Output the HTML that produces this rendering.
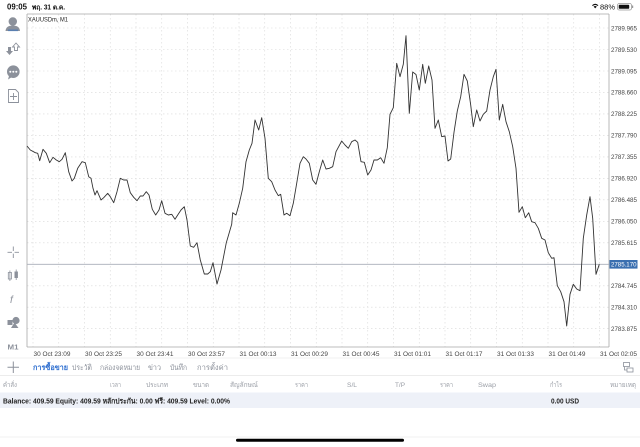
<!DOCTYPE html>
<html><head><meta charset="utf-8"><style>
html,body{margin:0;padding:0;background:#fff;width:640px;height:447px;overflow:hidden}
svg{display:block}
text{font-family:"Liberation Sans","DejaVu Sans","Noto Sans CJK SC",sans-serif}
</style></head><body>
<svg width="640" height="447" viewBox="0 0 640 447" xmlns="http://www.w3.org/2000/svg">
<rect width="640" height="447" fill="#fff"/>
<!-- status bar -->
<text x="7" y="9.5" font-size="8" font-weight="bold" fill="#111" textLength="20" lengthAdjust="spacingAndGlyphs">09:05</text>
<text x="32" y="9.5" font-size="7" font-weight="bold" fill="#111" textLength="33" lengthAdjust="spacingAndGlyphs">พฤ. 31 ต.ค.</text>
<g fill="#111">
<path d="M592 5.2 Q595.2 2.4 598.4 5.2 L597.6 6 Q595.2 4 592.8 6Z"/>
<path d="M593.6 6.6 Q595.2 5.3 596.8 6.6 L595.2 8.4Z"/>
</g>
<text x="600" y="9.3" font-size="7.5" fill="#111" textLength="15" lengthAdjust="spacingAndGlyphs">88%</text>
<rect x="617.5" y="3.5" width="14" height="6.5" rx="1.8" fill="none" stroke="#999" stroke-width="0.8"/>
<rect x="618.7" y="4.7" width="10.5" height="4.1" rx="0.8" fill="#111"/>
<rect x="632" y="5.5" width="1.2" height="2.5" fill="#999"/>

<!-- chart grid -->
<g stroke="#d8d8d8" stroke-width="0.6" stroke-dasharray="1.5,2.5">
<line x1="27" x2="609" y1="28" y2="28"/><line x1="27" x2="609" y1="49.5" y2="49.5"/><line x1="27" x2="609" y1="71" y2="71"/><line x1="27" x2="609" y1="92.4" y2="92.4"/><line x1="27" x2="609" y1="113.9" y2="113.9"/><line x1="27" x2="609" y1="135.4" y2="135.4"/><line x1="27" x2="609" y1="156.9" y2="156.9"/><line x1="27" x2="609" y1="178.4" y2="178.4"/><line x1="27" x2="609" y1="199.8" y2="199.8"/><line x1="27" x2="609" y1="221.3" y2="221.3"/><line x1="27" x2="609" y1="242.8" y2="242.8"/><line x1="27" x2="609" y1="285.8" y2="285.8"/><line x1="27" x2="609" y1="307.2" y2="307.2"/><line x1="27" x2="609" y1="328.7" y2="328.7"/>
<line y1="14" y2="347" x1="33" x2="33"/><line y1="14" y2="347" x1="58.75" x2="58.75"/><line y1="14" y2="347" x1="84.5" x2="84.5"/><line y1="14" y2="347" x1="110.25" x2="110.25"/><line y1="14" y2="347" x1="136" x2="136"/><line y1="14" y2="347" x1="161.75" x2="161.75"/><line y1="14" y2="347" x1="187.5" x2="187.5"/><line y1="14" y2="347" x1="213.25" x2="213.25"/><line y1="14" y2="347" x1="239" x2="239"/><line y1="14" y2="347" x1="264.75" x2="264.75"/><line y1="14" y2="347" x1="290.5" x2="290.5"/><line y1="14" y2="347" x1="316.25" x2="316.25"/><line y1="14" y2="347" x1="342" x2="342"/><line y1="14" y2="347" x1="367.75" x2="367.75"/><line y1="14" y2="347" x1="393.5" x2="393.5"/><line y1="14" y2="347" x1="419.25" x2="419.25"/><line y1="14" y2="347" x1="445" x2="445"/><line y1="14" y2="347" x1="470.75" x2="470.75"/><line y1="14" y2="347" x1="496.5" x2="496.5"/><line y1="14" y2="347" x1="522.25" x2="522.25"/><line y1="14" y2="347" x1="548" x2="548"/><line y1="14" y2="347" x1="573.75" x2="573.75"/><line y1="14" y2="347" x1="599.5" x2="599.5"/>
</g>
<!-- frame -->
<g stroke="#a8a8a8" stroke-width="0.8" fill="none">
<line x1="27" y1="14" x2="609" y2="14"/>
<line x1="27" y1="14" x2="27" y2="347"/>
<line x1="609" y1="14" x2="609" y2="347"/>
<line x1="27" y1="347" x2="609" y2="347"/>
</g>
<text x="28" y="21.5" font-size="6.5" fill="#222" textLength="40" lengthAdjust="spacingAndGlyphs">XAUUSDm, M1</text>

<!-- current price line -->
<line x1="27" y1="264.3" x2="609" y2="264.3" stroke="#a9adb8" stroke-width="0.8"/>

<!-- series -->
<polyline fill="none" stroke="#333" stroke-width="0.9" stroke-linejoin="round" points="27,146 30.3,150 35.3,152.7 37.7,153.3 39.7,160.7 43,149.3 46.3,153.3 49.7,162.7 53,157.3 56.3,160 59.3,161.7 62,159.3 65.3,152.7 68.7,171.7 72,181 74.3,178.3 77.7,168.3 82,161.7 85.3,162.7 88.7,176.7 91,178.3 93,188.3 95,195 97,190.7 101,200 103.7,197.7 107.7,193.3 110.3,196.7 113.7,202.7 117,191.7 120.3,178.3 123.7,180 127,180 130.3,192.7 133.7,197.3 137,200.7 140.3,196 143,196 146.3,191.7 149,195 152.3,209.3 155.7,215 159,210 161.7,200.7 165,213.3 168.3,215 171.7,214.3 175,219.3 177.7,215 181,210 184.3,206.7 187,220 190.3,246 193.7,247.3 197,242.7 200.3,260 204.3,274 207.7,274 210.3,271.7 213,262.7 217,284 221,270 226.3,242.7 231.7,224.3 232.7,212.7 236,215 239.3,203.3 242.7,188.3 246,161.7 249.3,150 252,143.3 255,120 258.7,130 261.7,117.7 265,138.3 268.3,178.3 271.7,181.7 275,190 278.3,195.7 280.7,194.3 284,215 286.7,213.3 290,215.7 293.3,203.3 296.7,183.3 300,163.3 303.3,156.7 306,159 309.3,163.3 312.7,180 316,184.3 319.3,171.7 322.7,160 326,169 329.3,168.3 332.7,166.7 336,151.7 341.7,141 345,145 348.3,148.3 351.7,141.7 355,140 357.7,142.3 361,161.7 364.3,162.3 367.7,175 371,170 374,160 377.3,160 380.7,157.7 384,163.3 387.3,147.7 390,114.3 393.3,107.7 396.7,63.3 400,76.7 403.3,64.3 406,35.7 409.3,113.3 412.7,72 416,74.5 419.3,90 422.7,64.3 425.3,83.3 428.7,66 432,80 435,128.3 438.3,120 441.7,136.7 445,136 448,161 450.7,159 454,132.3 457.3,111 460.7,96.7 464,74.3 467.3,81 470.7,105 473.3,126.7 476.7,110 480,121 483.3,114.3 486.7,111 490,90 493.3,76.7 496,69.3 499.3,120 502.7,104.3 506,121.7 509.3,131.7 512.7,146.7 516,168.3 519,212.3 522.3,206.7 525.3,217.7 528.7,212.7 531.7,221.7 535,222.7 538.3,228.3 541.7,238.3 545,240 548.3,252.7 551.7,258.3 554,257.7 557.3,285.7 560.7,291.7 564,301.7 566.7,326 570,294.3 573.3,284.3 576.7,289 580,290.7 583.3,238.3 586.7,215 590,196.7 592.7,218.3 596,274.3 599.3,264.3"/>

<!-- price axis labels -->
<g font-size="6.5" fill="#444">
<text x="611" y="30.3" textLength="26" lengthAdjust="spacingAndGlyphs">2789.965</text>
<text x="611" y="51.8" textLength="26" lengthAdjust="spacingAndGlyphs">2789.530</text>
<text x="611" y="73.3" textLength="26" lengthAdjust="spacingAndGlyphs">2789.095</text>
<text x="611" y="94.7" textLength="26" lengthAdjust="spacingAndGlyphs">2788.660</text>
<text x="611" y="116.2" textLength="26" lengthAdjust="spacingAndGlyphs">2788.225</text>
<text x="611" y="137.7" textLength="26" lengthAdjust="spacingAndGlyphs">2787.790</text>
<text x="611" y="159.2" textLength="26" lengthAdjust="spacingAndGlyphs">2787.355</text>
<text x="611" y="180.7" textLength="26" lengthAdjust="spacingAndGlyphs">2786.920</text>
<text x="611" y="202.1" textLength="26" lengthAdjust="spacingAndGlyphs">2786.485</text>
<text x="611" y="223.6" textLength="26" lengthAdjust="spacingAndGlyphs">2786.050</text>
<text x="611" y="245.1" textLength="26" lengthAdjust="spacingAndGlyphs">2785.615</text>
<text x="611" y="288.1" textLength="26" lengthAdjust="spacingAndGlyphs">2784.745</text>
<text x="611" y="309.5" textLength="26" lengthAdjust="spacingAndGlyphs">2784.310</text>
<text x="611" y="331" textLength="26" lengthAdjust="spacingAndGlyphs">2783.875</text>
</g>
<rect x="609.5" y="260" width="28" height="8.6" fill="#3a6fb0"/>
<text x="611" y="266.6" font-size="6.5" fill="#fff" textLength="25.5" lengthAdjust="spacingAndGlyphs">2785.170</text>

<!-- time labels -->
<g font-size="6.5" fill="#444">
<text x="33.5" y="356" textLength="37" lengthAdjust="spacingAndGlyphs">30 Oct 23:09</text>
<text x="85" y="356" textLength="37" lengthAdjust="spacingAndGlyphs">30 Oct 23:25</text>
<text x="136.5" y="356" textLength="37" lengthAdjust="spacingAndGlyphs">30 Oct 23:41</text>
<text x="188" y="356" textLength="37" lengthAdjust="spacingAndGlyphs">30 Oct 23:57</text>
<text x="239.5" y="356" textLength="37" lengthAdjust="spacingAndGlyphs">31 Oct 00:13</text>
<text x="291" y="356" textLength="37" lengthAdjust="spacingAndGlyphs">31 Oct 00:29</text>
<text x="342.5" y="356" textLength="37" lengthAdjust="spacingAndGlyphs">31 Oct 00:45</text>
<text x="394" y="356" textLength="37" lengthAdjust="spacingAndGlyphs">31 Oct 01:01</text>
<text x="445.5" y="356" textLength="37" lengthAdjust="spacingAndGlyphs">31 Oct 01:17</text>
<text x="497" y="356" textLength="37" lengthAdjust="spacingAndGlyphs">31 Oct 01:33</text>
<text x="548.5" y="356" textLength="37" lengthAdjust="spacingAndGlyphs">31 Oct 01:49</text>
<text x="600" y="356" textLength="37" lengthAdjust="spacingAndGlyphs">31 Oct 02:05</text>
</g>

<!-- left toolbar icons -->
<g fill="#8c919b" stroke="none">
<circle cx="12.8" cy="21.5" r="4.2"/>
<path d="M5.5 31 Q6 25.5 12.8 25.5 Q19.5 25.5 20 31Z"/>
<rect x="8" y="29.5" width="10" height="1.6" fill="#5a7fb0"/>
<path d="M8 47 L11 47 L11 51 L13 51 L9.5 55 L6 51 L8 51Z"/>
<path d="M16 43 L19.5 47 L17.5 47 L17.5 50.5 L14.5 50.5 L14.5 47 L12.5 47Z" fill="none" stroke="#8c919b" stroke-width="0.9"/>
<circle cx="13.3" cy="71.7" r="6.3"/>
<path d="M9 76 L8 79.5 L12 77Z"/>
<circle cx="10.3" cy="71.7" r="1" fill="#fff"/><circle cx="13.3" cy="71.7" r="1" fill="#fff"/><circle cx="16.3" cy="71.7" r="1" fill="#fff"/>
<path d="M8.5 89.5 L15.5 89.5 L18.5 92.5 L18.5 102.5 L8.5 102.5Z" fill="none" stroke="#8c919b" stroke-width="0.9"/>
<path d="M13.5 93 V100 M10 96.5 H17" stroke="#8c919b" stroke-width="0.9"/>
<path d="M13.3 246.5 V251 M13.3 253.6 V258 M7.5 252.3 H12 M14.6 252.3 H19" stroke="#8c919b" stroke-width="0.9"/>
<rect x="8.3" y="272.5" width="3.2" height="6.5" fill="none" stroke="#8c919b" stroke-width="0.8"/>
<line x1="9.9" y1="270.5" x2="9.9" y2="281" stroke="#8c919b" stroke-width="0.8"/>
<rect x="14.5" y="271.5" width="3.4" height="6.5"/>
<line x1="16.2" y1="269.5" x2="16.2" y2="280" stroke="#8c919b" stroke-width="0.8"/>
<text x="10" y="303" font-size="10" font-style="italic" font-family="Liberation Serif, serif" fill="#8c919b">f</text>
<rect x="7.5" y="320" width="5" height="5"/>
<circle cx="16" cy="320.5" r="3.6"/>
<path d="M11 328 L14.5 322.5 L18.5 328Z"/>
<text x="7.5" y="349.5" font-size="7.5" font-weight="bold" fill="#8c919b" textLength="11" lengthAdjust="spacingAndGlyphs">M1</text>
</g>

<!-- tab bar -->
<line x1="0" y1="358" x2="640" y2="358" stroke="#eeeeee" stroke-width="0.8"/>
<line x1="0" y1="375.5" x2="640" y2="375.5" stroke="#e6e6e6" stroke-width="0.8"/>
<path d="M13.3 361.5 V373 M7.5 367.2 H19" stroke="#8c919b" stroke-width="1"/>
<g font-size="7.5" fill="#8c919b">
<text x="33" y="370" fill="#2f6fd0" font-weight="bold" textLength="35" lengthAdjust="spacingAndGlyphs">การซื้อขาย</text>
<text x="72" y="370" textLength="20" lengthAdjust="spacingAndGlyphs">ประวัติ</text>
<text x="100" y="370" textLength="40" lengthAdjust="spacingAndGlyphs">กล่องจดหมาย</text>
<text x="148" y="370" textLength="13" lengthAdjust="spacingAndGlyphs">ข่าว</text>
<text x="170" y="370" textLength="17" lengthAdjust="spacingAndGlyphs">บันทึก</text>
<text x="197" y="370" textLength="31" lengthAdjust="spacingAndGlyphs">การตั้งค่า</text>
</g>
<g fill="none" stroke="#8c919b" stroke-width="0.8">
<rect x="623.5" y="362.5" width="6" height="4"/>
<rect x="627" y="368" width="6" height="4"/>
<path d="M624.5 366.5 V370 H627"/>
</g>

<!-- column headers -->
<g font-size="6.8" fill="#9a9ea6">
<text x="3" y="387" textLength="14" lengthAdjust="spacingAndGlyphs">คำสั่ง</text>
<text x="110" y="387" textLength="11" lengthAdjust="spacingAndGlyphs">เวลา</text>
<text x="146" y="387" textLength="22" lengthAdjust="spacingAndGlyphs">ประเภท</text>
<text x="193" y="387" textLength="16" lengthAdjust="spacingAndGlyphs">ขนาด</text>
<text x="230" y="387" textLength="28" lengthAdjust="spacingAndGlyphs">สัญลักษณ์</text>
<text x="295" y="387" textLength="13" lengthAdjust="spacingAndGlyphs">ราคา</text>
<text x="347" y="387" textLength="10" lengthAdjust="spacingAndGlyphs">S/L</text>
<text x="395" y="387" textLength="10" lengthAdjust="spacingAndGlyphs">T/P</text>
<text x="440" y="387" textLength="13" lengthAdjust="spacingAndGlyphs">ราคา</text>
<text x="478" y="387" textLength="18" lengthAdjust="spacingAndGlyphs">Swap</text>
<text x="550" y="387" textLength="12" lengthAdjust="spacingAndGlyphs">กำไร</text>
<text x="610" y="387" textLength="26" lengthAdjust="spacingAndGlyphs">หมายเหตุ</text>
</g>

<!-- balance row -->
<rect x="0" y="392.5" width="640" height="15.5" fill="#eef1f8"/>
<text x="3" y="403.3" font-size="7.2" font-weight="bold" fill="#222" textLength="227" lengthAdjust="spacingAndGlyphs">Balance: 409.59 Equity: 409.59 หลักประกัน: 0.00 ฟรี: 409.59 Level: 0.00%</text>
<text x="551" y="403.3" font-size="7.2" font-weight="bold" fill="#222" textLength="28" lengthAdjust="spacingAndGlyphs">0.00  USD</text>

<!-- bottom -->
<line x1="0" y1="437" x2="640" y2="437" stroke="#eeeeee" stroke-width="0.8"/>
<rect x="236" y="438.8" width="168" height="3" rx="1.5" fill="#000"/>
</svg>
</body></html>
